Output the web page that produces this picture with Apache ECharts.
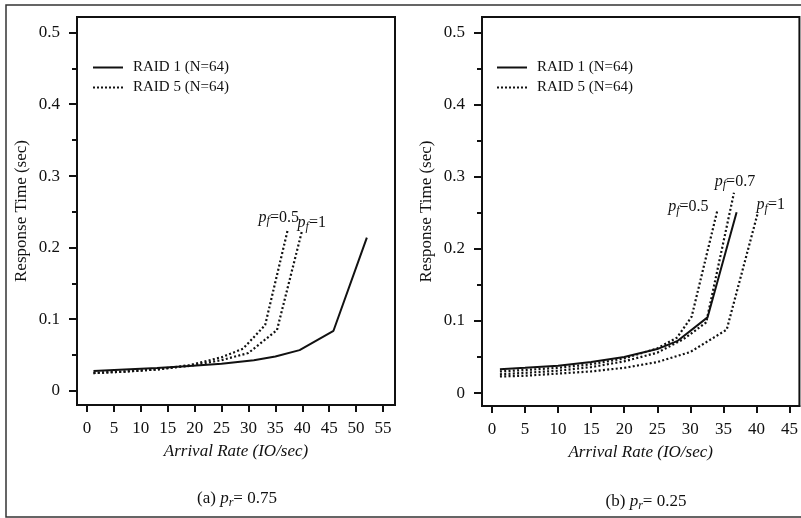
<!DOCTYPE html>
<html><head><meta charset="utf-8">
<script src="https://cdn.jsdelivr.net/npm/echarts@6/dist/echarts.min.js"></script>
<style>html,body{margin:0;padding:0;background:#fff}#c{width:801px;height:518px}</style>
</head><body><div id="c"></div>
<script>
// ---- data ----
const xTicksA = [0,5,10,15,20,25,30,35,40,45,50,55];
const xTicksB = [0,5,10,15,20,25,30,35,40,45];
const yTicks = [0,0.1,0.2,0.3,0.4,0.5];
const yMinorTicks = [0.05,0.15,0.25,0.35,0.45];

// panel (a) p_r = 0.75
const raid1A = [[1.2,0.028],[7,0.030],[13,0.032],[19,0.035],[25,0.038],[31,0.043],[35,0.048],[39.5,0.057],[45.8,0.084],[52,0.214]];
const raid5A_pf05 = [[1.2,0.025],[7,0.027],[13,0.030],[19,0.036],[25,0.047],[29,0.059],[33.1,0.092],[37.3,0.225]];
const raid5A_pf1 = [[1.2,0.025],[7,0.027],[13,0.030],[19,0.035],[25,0.043],[30,0.053],[35.3,0.085],[39.9,0.222]];

// panel (b) p_r = 0.25
const raid1B = [[1.2,0.033],[5,0.035],[10,0.038],[15,0.043],[20,0.050],[25,0.061],[28,0.072],[32.6,0.105],[37,0.251]];
const raid5B_pf05 = [[1.2,0.030],[5,0.032],[10,0.035],[15,0.040],[20,0.048],[25,0.062],[28,0.077],[30.2,0.106],[34.1,0.254]];
const raid5B_pf07 = [[1.2,0.026],[5,0.028],[10,0.031],[15,0.036],[20,0.044],[25,0.056],[29,0.075],[32.4,0.098],[36.6,0.278]];
const raid5B_pf1 = [[1.2,0.023],[5,0.024],[10,0.027],[15,0.030],[20,0.035],[25,0.043],[30,0.057],[35.5,0.088],[40.2,0.250]];

const nameR1 = 'RAID 1 (N=64)';
const nameR5 = 'RAID 5 (N=64)';
const pfLabels = { a05:'0.5', a1:'1', b05:'0.5', b07:'0.7', b1:'1' };
const captionA = '0.75', captionB = '0.25';

// ---- chart ----
const FONT = 'Liberation Serif';
const INK = '#111';
const rich = {
  p:{fontFamily:FONT,fontStyle:'italic',fontSize:16,color:INK},
  f:{fontFamily:FONT,fontStyle:'italic',fontSize:12,color:INK,padding:[7,0,0,0]},
  n:{fontFamily:FONT,fontSize:16,color:INK}
};
function endMark(arr, v, offset){
  return {symbol:'circle', symbolSize:1, silent:true,
    itemStyle:{color:'rgba(0,0,0,0)'},
    label:{show:true, position:'top', distance:5, offset:offset,
      formatter:'{p|p}{f|f}{n|=' + v + '}', rich:rich},
    data:[{coord:arr[arr.length-1]}]};
}
const solid = {color:INK, width:2, type:'solid'};
const dotted = {color:INK, width:2.2, type:[2,2.3]};

function xAxisDef(gi, min, max, ticks){
  return {type:'value', gridIndex:gi, min:min, max:max,
    axisLine:{show:true, onZero:false, lineStyle:{color:INK,width:2}},
    axisTick:{show:true, inside:false, length:7, customValues:ticks.slice(), lineStyle:{color:INK,width:2}},
    axisLabel:{customValues:ticks.slice(), margin:15, fontFamily:FONT, fontSize:17, color:INK},
    splitLine:{show:false},
    name:'Arrival Rate (IO/sec)', nameLocation:'middle', nameGap:38,
    nameTextStyle:{fontFamily:FONT, fontStyle:'italic', fontSize:17, color:INK}};
}
function yLabelAxis(gi, min, max){
  return {type:'value', gridIndex:gi, min:min, max:max, position:'left',
    axisLine:{show:true, onZero:false, lineStyle:{color:INK,width:2}},
    axisTick:{show:false},
    axisLabel:{customValues:yTicks.slice(), margin:17, fontFamily:FONT, fontSize:17, color:INK},
    splitLine:{show:false},
    name:'Response Time (sec)', nameLocation:'middle', nameGap:47, nameRotate:90,
    nameTextStyle:{fontFamily:FONT, fontSize:17, color:INK}};
}
function yTickAxis(gi, min, max, ticks, len){
  return {type:'value', gridIndex:gi, min:min, max:max, position:'left', offset:0,
    axisLine:{show:true, onZero:false, lineStyle:{color:INK,width:2}},
    axisTick:{show:true, inside:false, length:len, customValues:ticks, lineStyle:{color:INK,width:2}},
    axisLabel:{show:false}, splitLine:{show:false}};
}
function line(name, data, xi, yi, style, mark){
  const s = {type:'line', name:name, xAxisIndex:xi, yAxisIndex:yi, data:data,
    symbol:'none', smooth:false, lineStyle:style, itemStyle:{color:INK}, z:3, silent:true};
  if (mark) s.markPoint = mark;
  return s;
}
const iconSolid = 'path://M0,0h30v2h-30z';
const iconDotted = 'path://M0,0h2v2h-2z M4,0h2v2h-2z M8,0h2v2h-2z M12,0h2v2h-2z M16,0h2v2h-2z M20,0h2v2h-2z M24,0h2v2h-2z M28,0h2v2h-2z';
function legendDef(left){
  return {left:left, top:55, orient:'vertical', itemWidth:30, itemHeight:2, itemGap:5,
    data:[{name:nameR1, icon:iconSolid}, {name:nameR5, icon:iconDotted}], selectedMode:false,
    itemStyle:{color:INK, borderWidth:0},
    textStyle:{fontFamily:FONT, fontSize:15, color:INK, padding:[0,0,0,5]}};
}
const capRich = {
  t:{fontFamily:FONT,fontSize:17,fontWeight:'normal',color:INK},
  p:{fontFamily:FONT,fontStyle:'italic',fontWeight:'normal',fontSize:17,color:INK},
  r:{fontFamily:FONT,fontStyle:'italic',fontWeight:'normal',fontSize:12,color:INK,padding:[8,0,0,0]}
};

const xA = [-1.86, 57.23], xB = [-1.51, 46.5];
const yA = [-0.0196, 0.522], yB = [-0.018, 0.522];
const frame = {type:'rect', shape:{x:6, y:5, width:820, height:512},
  style:{fill:'none', stroke:'#333', lineWidth:1.5}, silent:true};
const option = {
  animation:false,
  backgroundColor:'#fff',
  graphic:[frame],
  title:[
    {text:'{t|(a) }{p|p}{r|r}{t|= ' + captionA + '}', left:232, top:484, textAlign:'center',
      textStyle:{fontWeight:'normal', rich:capRich}},
    {text:'{t|(b) }{p|p}{r|r}{t|= ' + captionB + '}', left:641, top:487, textAlign:'center',
      textStyle:{fontWeight:'normal', rich:capRich}}
  ],
  legend:[legendDef(88), legendDef(492)],
  grid:[
    {left:77, top:17, width:318, height:388, show:true, borderColor:INK, borderWidth:2, containLabel:false},
    {left:482, top:17, width:318, height:389, show:true, borderColor:INK, borderWidth:2, containLabel:false}
  ],
  xAxis:[ xAxisDef(0, xA[0], xA[1], xTicksA), xAxisDef(1, xB[0], xB[1], xTicksB) ],
  yAxis:[ yLabelAxis(0, yA[0], yA[1]), yTickAxis(0, yA[0], yA[1], yMinorTicks.slice(), 5),
          yLabelAxis(1, yB[0], yB[1]), yTickAxis(1, yB[0], yB[1], yMinorTicks.slice(), 5) ],
  series:[
    line(nameR1, raid1A, 0, 0, solid),
    line(nameR5, raid5A_pf05, 0, 0, dotted, endMark(raid5A_pf05, pfLabels.a05, [-9, 3])),
    line(nameR5, raid5A_pf1, 0, 0, dotted, endMark(raid5A_pf1, pfLabels.a1, [10, 6])),
    line(nameR1, raid1B, 1, 2, solid),
    line(nameR5, raid5B_pf05, 1, 2, dotted, endMark(raid5B_pf05, pfLabels.b05, [-29, 12])),
    line(nameR5, raid5B_pf07, 1, 2, dotted, endMark(raid5B_pf07, pfLabels.b07, [1, 4])),
    line(nameR5, raid5B_pf1, 1, 2, dotted, endMark(raid5B_pf1, pfLabels.b1, [13, 7]))
  ]
};
const chart = echarts.init(document.getElementById('c'), null, {renderer:'canvas'});
chart.setOption(option);

// major y tick marks, placed through the axes' own scales
const majorTicks = [];
[[0, 0, xA[0]], [1, 2, xB[0]]].forEach(([xi, yi, xmin]) => {
  const x0 = chart.convertToPixel({xAxisIndex:xi}, xmin);
  yTicks.forEach(v => {
    const y = Math.round(chart.convertToPixel({yAxisIndex:yi}, v));
    majorTicks.push({type:'line', silent:true, z:10,
      shape:{x1:x0 - 8, y1:y, x2:x0, y2:y},
      style:{stroke:INK, lineWidth:2}});
  });
});
chart.setOption({graphic:[frame].concat(majorTicks)});
</script></body></html>
